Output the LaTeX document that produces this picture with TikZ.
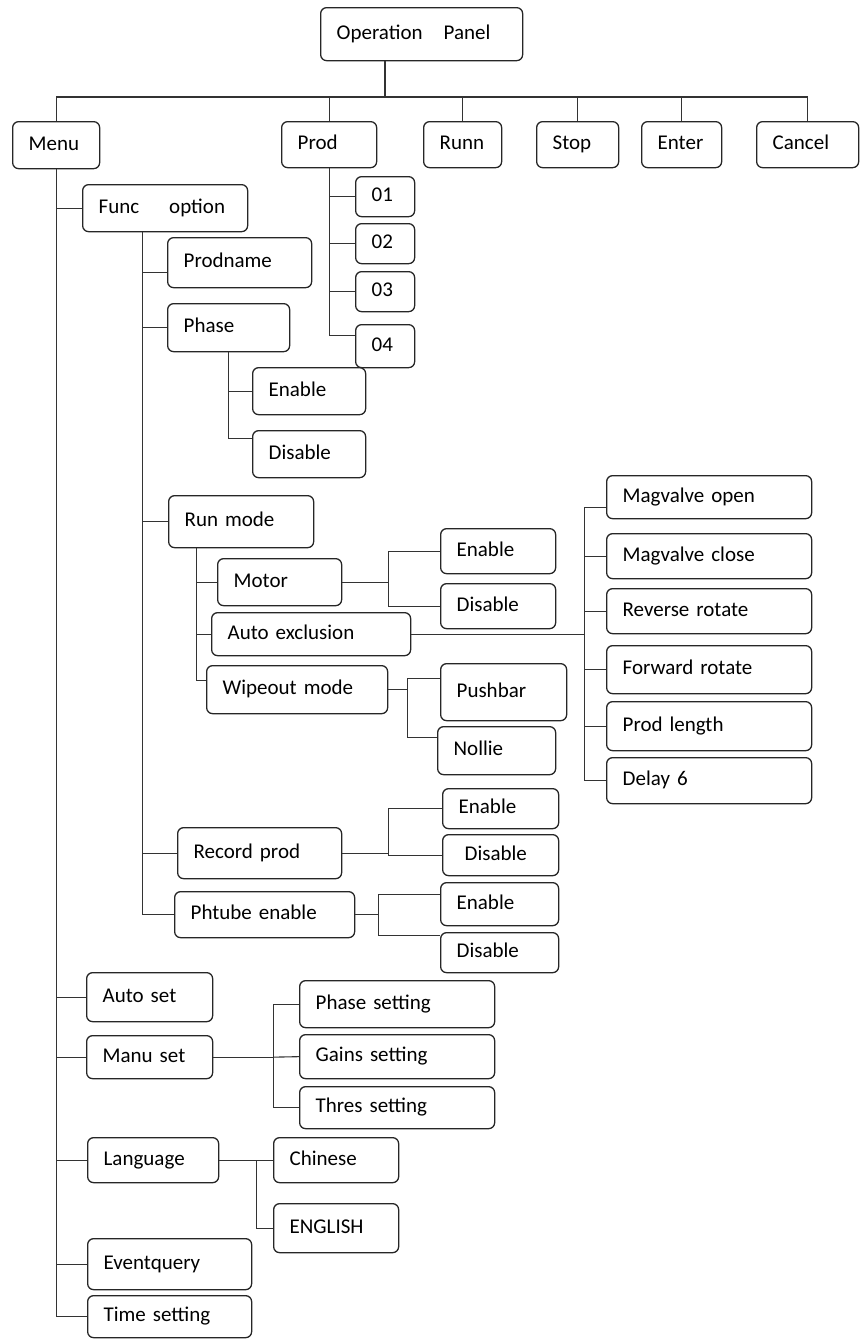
\documentclass[tikz,border=0pt]{standalone}
\usepackage{fontspec}
\setmainfont{Carlito}
\usetikzlibrary{calc}
\tikzset{
  item/.style 2 args={draw=black!85, line width=1.3pt, rounded corners=6pt, anchor=north west,
    inner xsep=16pt, inner ysep=0pt, text width=#1pt-32pt, minimum height=#2pt, align=left,
    text height=15pt, text depth=5pt, font=\fontsize{21}{24}\selectfont},
  link/.style={draw=black!80, line width=1.1pt},
}
\begin{document}
\begin{tikzpicture}[x=1pt, y=-1pt]
        \useasboundingbox (0,0) rectangle (860,1341);

        \node[item={202}{53}] (panel) at (320,7) {Operation\quad Panel};

        \node[item={87}{47}] (menu) at (12,121) {Menu};
        \node[item={95}{46}] (prod) at (281,121) {Prod};
        \node[item={78}{46}] (runn) at (423,121) {Runn};
        \node[item={82}{46}] (stop) at (536,121) {Stop};
        \node[item={80}{46}] (enter) at (641,121) {Enter};
        \node[item={102}{46}] (cancel) at (756,121) {Cancel};

        \node[item={59}{40}] (p01) at (355,176) {01};
        \node[item={59}{40}] (p02) at (355,223) {02};
        \node[item={59}{40}] (p03) at (355,271) {03};
        \node[item={59}{43}] (p04) at (355,324) {04};

        \node[item={165}{47}] (funcopt) at (82,184) {Func\hspace{30pt}option};
        \node[item={144}{50}] (prodname) at (167,237) {Prodname};
        \node[item={122}{48}] (phase) at (167,303) {Phase};
        \node[item={113}{47}] (phen) at (252,367) {Enable};
        \node[item={113}{47}] (phdis) at (252,430) {Disable};

        \node[item={145}{52}] (runmode) at (168,495) {Run mode};
        \node[item={124}{47}] (motor) at (217,558) {Motor};
        \node[item={115}{45}] (moten) at (440,528) {Enable};
        \node[item={115}{45}] (motdis) at (440,583) {Disable};
        \node[item={199}{43}] (autoex) at (211,612) {Auto exclusion};
        \node[item={181}{48}] (wipeout) at (206,665) {Wipeout mode};
        \node[item={126}{57}] (pushbar) at (440,663) {Pushbar};
        \node[item={118}{48}] (nollie) at (437,726) {Nollie};

        \node[item={205}{43}] (magopen) at (606,475) {Magvalve open};
        \node[item={205}{45}] (magclose) at (606,533) {Magvalve close};
        \node[item={205}{45}] (reverse) at (606,588) {Reverse rotate};
        \node[item={205}{48}] (forward) at (606,645) {Forward rotate};
        \node[item={205}{49}] (prodlen) at (606,701) {Prod length};
        \node[item={205}{46}] (delay) at (606,757) {Delay 6};

        \node[item={164}{51}] (recprod) at (177,827) {Record prod};
        \node[item={116}{40}] (recen) at (442,788) {Enable};
        \node[item={116}{41}] (recdis) at (442,834) {\hspace{6pt}Disable};
        \node[item={180}{46}] (phtube) at (174,891) {Phtube enable};
        \node[item={118}{43}] (phten) at (440,882) {Enable};
        \node[item={118}{40}] (phtdis) at (440,932) {Disable};

        \node[item={126}{49}] (autoset) at (86,972) {Auto set};
        \node[item={126}{43}] (manuset) at (86,1035) {Manu set};
        \node[item={195}{47}] (phaseset) at (299,980) {Phase setting};
        \node[item={195}{44}] (gainset) at (299,1034) {Gains setting};
        \node[item={195}{42}] (thresset) at (299,1086) {Thres setting};
        \node[item={131}{45}] (language) at (87,1137) {Language};
        \node[item={125}{45}] (chinese) at (273,1137) {Chinese};
        \node[item={125}{49}] (english) at (273,1203) {ENGLISH};
        \node[item={164}{51}] (eventq) at (87,1238) {Eventquery};
        \node[item={164}{42}] (timeset) at (87,1295) {Time setting};

        \coordinate (bus) at (385,97);
        \draw[link] (panel.south -| bus) -- (bus);
        \draw[link] (menu.north |- bus) -- (cancel.north |- bus);
        \foreach \n in {menu,prod,runn,stop,enter,cancel}
            \draw[link] (\n.north |- bus) -- (\n.north);

        \draw[link] (menu.south) |- (timeset.west);
        \foreach \n in {funcopt,autoset,manuset,language,eventq}
            \draw[link] (menu.south |- \n.west) -- (\n.west);

        \coordinate (prodnamein) at ([yshift=-10pt]prodname.west);
        \coordinate (ft) at ([xshift=-22.5pt]funcopt.south);
        \draw[link] (ft) |- (phtube.west);
        \draw[link] (ft |- prodnamein) -- (prodnamein);
        \foreach \n in {phase,runmode,recprod}
            \draw[link] (ft |- \n.west) -- (\n.west);

        \coordinate (p04in) at ([yshift=11pt]p04.west);
        \draw[link] (prod.south) |- (p04in);
        \foreach \n in {p01,p02,p03}
            \draw[link] (prod.south |- \n.west) -- (\n.west);

        \coordinate (phdisin) at ([yshift=16pt]phdis.west);
        \draw[link] (phase.south) |- (phdisin);
        \draw[link] (phase.south |- phen.west) -- (phen.west);

        \coordinate (wipein) at ([yshift=9pt]wipeout.west);
        \coordinate (rt) at ([xshift=-44.5pt]runmode.south);
        \draw[link] (rt) |- (wipein);
        \foreach \n in {motor,autoex}
            \draw[link] (rt |- \n.west) -- (\n.west);

        \coordinate (mb) at ([xshift=46pt]motor.east);
        \draw[link] (motor.east) -- (mb);
        \draw[link] (moten.west) -| (mb) |- (motdis.west);

        \coordinate (ab) at ([xshift=173pt]autoex.east);
        \coordinate (magopenin) at ([yshift=-10pt]magopen.west);
        \draw[link] (autoex.east) -- (ab);
        \draw[link] (magopenin) -| (ab) |- (delay.west);
        \foreach \n in {magclose,reverse,forward,prodlen}
            \draw[link] (ab |- \n.west) -- (\n.west);

        \coordinate (wb) at ([xshift=19pt]wipeout.east);
        \coordinate (pushin) at ([yshift=14pt]pushbar.west);
        \coordinate (nolin) at ([yshift=13pt]nollie.west);
        \draw[link] (wipeout.east) -- (wb);
        \draw[link] (pushin) -| (wb) |- (nolin);

        \coordinate (rb) at ([xshift=46pt]recprod.east);
        \draw[link] (recprod.east) -- (rb);
        \draw[link] (recen.west) -| (rb) |- (recdis.west);

        \coordinate (pb) at ([xshift=23pt]phtube.east);
        \coordinate (phtenin) at ([yshift=10pt]phten.west);
        \coordinate (phtdisin) at ([yshift=17pt]phtdis.west);
        \draw[link] (phtube.east) -- (pb);
        \draw[link] (phtenin) -| (pb) |- (phtdisin);

        \coordinate (mab) at ([xshift=60pt]manuset.east);
        \draw[link] (manuset.east) -- (mab);
        \draw[link] (phaseset.west) -| (mab) |- (thresset.west);
        \draw[link] (mab) -- (gainset.west);

        \coordinate (lb) at ([xshift=37pt]language.east);
        \draw[link] (language.east) -- (lb);
        \draw[link] (chinese.west) -| (lb) |- (english.west);

    \end{tikzpicture}
\end{document}
